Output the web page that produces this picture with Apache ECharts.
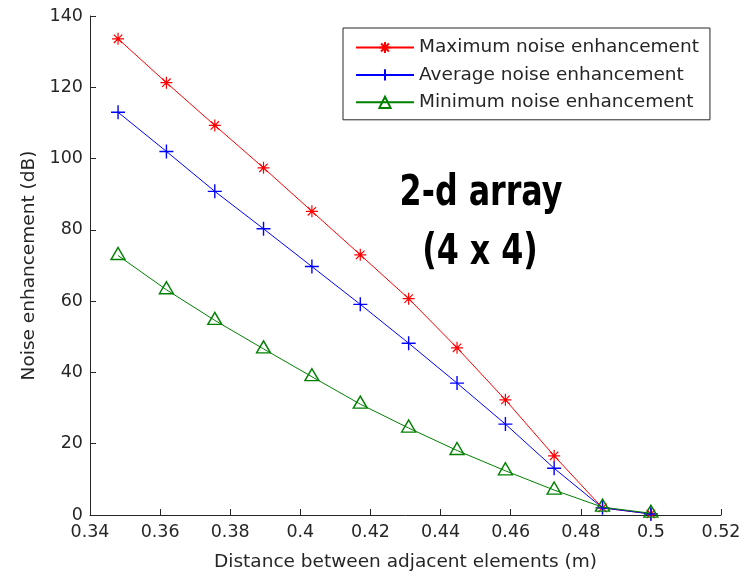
<!DOCTYPE html>
<html>
<head>
<meta charset="utf-8">
<script src="https://cdn.jsdelivr.net/npm/echarts@6/dist/echarts.min.js"></script>
<style>
  html, body { margin: 0; padding: 0; background: #fff; }
  #chart { width: 749px; height: 573px; }
</style>
</head>
<body>
<div id="chart"></div>
<script>
// element spacing (m)
const distances = [0.348, 0.3618, 0.3756, 0.3895, 0.4033, 0.4171, 0.4309, 0.4447, 0.4585, 0.4724, 0.4862, 0.5];

// noise enhancement (dB)
const maxNoise = [133.6, 121.3, 109.3, 97.4, 85.2, 73.0, 60.7, 46.9, 32.3, 16.6, 2.0, 0.3];
const avgNoise = [113.0, 102.0, 90.8, 80.3, 69.7, 59.1, 48.2, 37.0, 25.5, 13.1, 2.0, 0.3];
const minNoise = [72.8, 63.2, 54.6, 46.6, 38.8, 31.1, 24.4, 18.1, 12.4, 7.0, 2.2, 0.5];

const seriesNames = ['Maximum noise enhancement', 'Average noise enhancement', 'Minimum noise enhancement'];
const annotation = ['2-d array', '(4 x 4)'];

const pairs = (ys) => distances.map((x, i) => [x, ys[i]]);

const asterisk = 'path://M0,-1L0,1M-1,0L1,0M-0.7,-0.7L0.7,0.7M-0.7,0.7L0.7,-0.7';
const plus = 'path://M0,-1L0,1M-1,0L1,0';

const chart = echarts.init(document.getElementById('chart'));

const tickText = { color: '#262626', fontFamily: 'DejaVu Sans', fontSize: 17.5 };
const nameText = { color: '#262626', fontFamily: 'DejaVu Sans', fontSize: 18.5 };
const bigFont = 'bold 42px "DejaVu Sans Condensed", "DejaVu Sans", sans-serif';

const option = {
  backgroundColor: '#fff',
  animation: false,
  grid: { left: 90, right: 28, top: 16, bottom: 58, outerBoundsMode: 'none', containLabel: false },
  legend: {
    orient: 'vertical',
    left: 343,
    top: 28,
    padding: [10, 11, 8, 12],
    itemGap: 8.4,
    itemWidth: 58,
    itemHeight: 14,
    borderColor: '#262626',
    borderWidth: 1,
    backgroundColor: '#fff',
    textStyle: { color: '#262626', fontFamily: 'DejaVu Sans', fontSize: 18.5 },
    data: seriesNames
  },
  xAxis: {
    type: 'value',
    min: 0.34,
    max: 0.52,
    interval: 0.02,
    name: 'Distance between adjacent elements (m)',
    nameLocation: 'middle',
    nameGap: 38,
    nameTextStyle: nameText,
    axisLine: { lineStyle: { color: '#262626' } },
    axisTick: { inside: true, length: 6, lineStyle: { color: '#262626' } },
    axisLabel: Object.assign({ margin: 8, formatter: (v) => String(parseFloat(v.toFixed(2))) }, tickText),
    splitLine: { show: false }
  },
  yAxis: {
    type: 'value',
    min: 0,
    max: 140,
    interval: 20,
    name: 'Noise enhancement (dB)',
    nameLocation: 'middle',
    nameGap: 50,
    nameTextStyle: nameText,
    axisLine: { show: true, lineStyle: { color: '#262626' } },
    axisTick: { show: true, inside: true, length: 6, lineStyle: { color: '#262626' } },
    axisLabel: Object.assign({ margin: 7 }, tickText),
    splitLine: { show: false }
  },
  graphic: [
    {
      type: 'text',
      x: 481,
      y: 194,
      scaleX: 0.84,
      style: { text: annotation[0], textAlign: 'center', textVerticalAlign: 'middle', fill: '#000', font: bigFont }
    },
    {
      type: 'text',
      x: 480,
      y: 253,
      scaleX: 0.84,
      style: { text: annotation[1], textAlign: 'center', textVerticalAlign: 'middle', fill: '#000', font: bigFont }
    }
  ],
  series: [
    {
      name: seriesNames[0],
      type: 'line',
      data: pairs(maxNoise),
      symbol: asterisk,
      symbolSize: 12,
      lineStyle: { color: '#ff0000', width: 1 },
      itemStyle: { color: '#ff0000', borderColor: '#ff0000', borderWidth: 1.2 },
      z: 3
    },
    {
      name: seriesNames[1],
      type: 'line',
      data: pairs(avgNoise),
      symbol: plus,
      symbolSize: 14,
      lineStyle: { color: '#0000ff', width: 1 },
      itemStyle: { color: '#0000ff', borderColor: '#0000ff', borderWidth: 1.4 },
      z: 4
    },
    {
      name: seriesNames[2],
      type: 'line',
      data: pairs(minNoise),
      symbol: 'triangle',
      symbolSize: [14, 12],
      symbolOffset: [0, -2],
      lineStyle: { color: '#008000', width: 1 },
      itemStyle: { color: 'rgba(0,0,0,0)', borderColor: '#008000', borderWidth: 1.4 },
      z: 5
    }
  ]
};

chart.setOption(option);
</script>
</body>
</html>
